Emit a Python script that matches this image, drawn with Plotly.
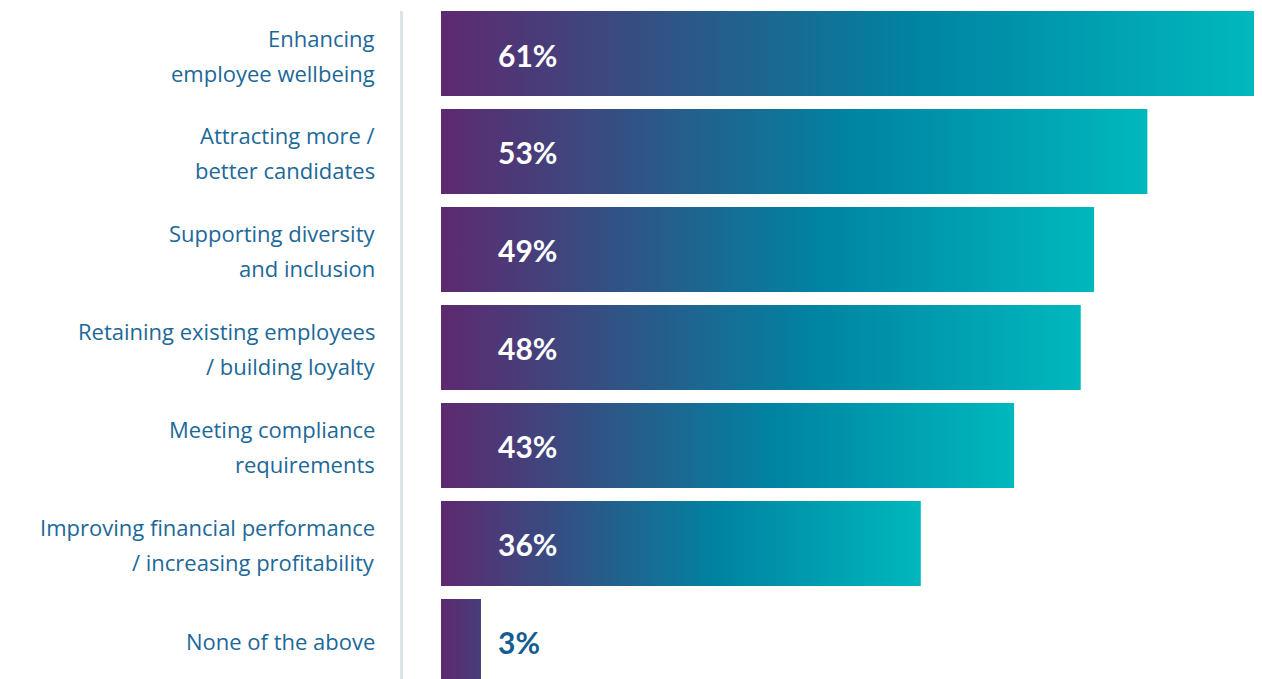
import plotly.graph_objects as go

# Survey responses: share of respondents naming each benefit
categories = [
    "Enhancing\nemployee wellbeing",
    "Attracting more /\nbetter candidates",
    "Supporting diversity\nand inclusion",
    "Retaining existing employees\n/ building loyalty",
    "Meeting compliance\nrequirements",
    "Improving financial performance\n/ increasing profitability",
    "None of the above",
]
values = [61, 53, 49, 48, 43, 36, 3]
value_labels = [f"{v}%" for v in values]

# Styling
BAR_THICKNESS = 0.867
GRADIENT = [[0.0, "#5e296f"], [0.3, "#2c5787"], [0.58, "#0083a2"], [1.0, "#00b8bd"]]
GRADIENT_MIN_SPAN = 22
LABEL_COLOR = "#1c6898"
VALUE_DARK = "#135d8f"
LABEL_FONT = "Open Sans"
VALUE_FONT = "Lato"
LINE_GAP_PX = 35

fig = go.Figure()

for i, v in enumerate(values):
    y0, y1 = i - BAR_THICKNESS / 2, i + BAR_THICKNESS / 2
    fig.add_trace(go.Scatter(
        x=[0, v, v, 0, 0],
        y=[y0, y0, y1, y1, y0],
        mode="lines",
        fill="toself",
        line=dict(width=0),
        fillgradient=dict(
            type="horizontal",
            colorscale=GRADIENT,
            start=0,
            stop=max(v, GRADIENT_MIN_SPAN),
        ),
        hoverinfo="skip",
        showlegend=False,
    ))

annotations = []
for i, (cat, v, lab) in enumerate(zip(categories, values, value_labels)):
    lines = cat.split("\n")
    n = len(lines)
    for k, line in enumerate(lines):
        shift = (n - 1) / 2 * LINE_GAP_PX - k * LINE_GAP_PX
        if n > 1:
            shift -= 1.5
        annotations.append(dict(
            x=0, xref="paper", xanchor="right", xshift=-26,
            y=i, yref="y", yanchor="middle", yshift=shift,
            text=line, showarrow=False,
            font=dict(family=LABEL_FONT, size=22, color=LABEL_COLOR),
        ))
    inside = v > 10
    annotations.append(dict(
        x=0, xref="x", xanchor="left", xshift=55,
        y=i, yref="y", yanchor="middle", yshift=-1,
        text=f"<b>{lab}</b>", showarrow=False,
        font=dict(family=VALUE_FONT, size=30,
                  color="#ffffff" if inside else VALUE_DARK),
    ))

fig.update_layout(
    width=1262, height=679,
    margin=dict(l=403, r=0, t=11, b=0),
    paper_bgcolor="white", plot_bgcolor="white",
    annotations=annotations,
    xaxis=dict(range=[-2.851, 61.6], visible=False, fixedrange=True),
    yaxis=dict(
        range=[6.383, -0.4337],
        showticklabels=False, showgrid=False, zeroline=False,
        showline=True, linecolor="#dde4e7", linewidth=3,
        fixedrange=True,
    ),
)

fig.write_html("out.html")
